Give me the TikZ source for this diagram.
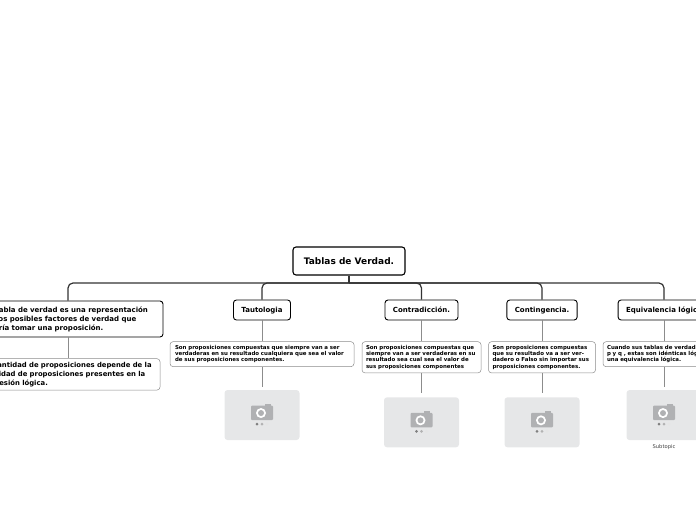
\documentclass[tikz,border=0pt]{standalone}
\usepackage{fontspec}
\setmainfont{DejaVu Sans}
\definecolor{cLine}{HTML}{333333}
\definecolor{cSoft}{HTML}{8C8C8C}
\definecolor{cPhoto}{HTML}{E6E7E8}
\definecolor{cCamera}{HTML}{B0B1B3}
\usetikzlibrary{positioning}
\tikzset{
  node-root/.style={draw=black,line width=1.1pt,rounded corners=3pt,fill=white,
    minimum width=112pt,minimum height=28pt,text depth=0pt,align=center,font=\fontsize{9}{11}\selectfont\bfseries},
  node-topic/.style={draw=black,line width=0.9pt,rounded corners=3pt,fill=white,
    minimum height=20pt,inner xsep=8pt,text depth=0pt,align=center,font=\fontsize{7}{8}\selectfont\bfseries},
  node-wide/.style={draw=black,line width=0.9pt,rounded corners=3pt,fill=white,
    text width=168pt,inner xsep=11pt,minimum height=36pt,align=left,font=\fontsize{7}{9}\selectfont\bfseries},
  node-note/.style={draw=cSoft,line width=0.5pt,rounded corners=3pt,fill=white,
    inner xsep=4pt,inner ysep=3.5pt,align=left,font=\fontsize{5.45}{6.3}\selectfont\bfseries},
  node-note-wide/.style={draw=cSoft,line width=0.5pt,rounded corners=3pt,fill=white,
    text width=172pt,inner xsep=6pt,minimum height=31pt,align=left,font=\fontsize{6.85}{9}\selectfont\bfseries},
  node-photo/.style={fill=cPhoto,rounded corners=3pt,minimum width=75pt,minimum height=50pt},
  node-caption/.style={font=\fontsize{5.2}{6}\selectfont,text=black!75},
  link/.style={draw=cLine,line width=1.2pt,rounded corners=5pt},
  link-soft/.style={draw=cSoft,line width=0.7pt},
  pics/camera/.style={code={
    \fill[cCamera,rounded corners=1pt] (-11,-9.5) rectangle (11,5);
    \fill[cCamera] (2.5,-11) rectangle (8.5,-9.5);
    \fill[white] (-1,-2) circle (5pt);
    \fill[cCamera] (-1,-2) circle (3pt);
    \fill[black!50] (-5,9) circle (1.5pt);
    \fill[black!30] (0,9) circle (1.5pt);
    \fill[black!10] (5,9) circle (1.5pt);
  }},
}

\begin{document}
\begin{tikzpicture}[x=1pt,y=-1pt,node distance=21pt]
  \useasboundingbox (0,0) rectangle (696,520);
  \node[node-root] (root) at (349,261) {Tablas de Verdad.};
  \coordinate (bus) at (349,283);
  % ramas
  \node[node-wide] (tabla) at (68,319) {La tabla de verdad es una representación\\de los posibles factores de verdad que\\podría tomar una proposición.};
  \node[node-topic] (tauto) at (262,310) {Tautologia};
  \node[node-topic] (contra) at (421.5,310) {Contradicción.};
  \node[node-topic] (conti) at (542,310) {Contingencia.};
  \node[node-topic] (equiv) at (664,310) {Equivalencia lógica};
  % notas
  \node[node-note-wide,below=21pt of tabla] (cantidad) {La cantidad de proposiciones depende de la\\cantidad de proposiciones presentes en la\\expresión lógica.};
  \node[node-note,text width=174pt,inner xsep=5pt,below=21pt of tauto] (tautonote) {Son proposiciones compuestas que siempre van a ser\\verdaderas en su resultado cualquiera que sea el valor\\de sus proposiciones componentes.};
  \node[node-note,text width=111pt,below=21pt of contra] (contranote) {Son proposiciones compuestas que\\siempre van a ser verdaderas en su\\resultado sea cual sea el valor de\\sus proposiciones componentes};
  \node[node-note,text width=99pt,below=21pt of conti] (contnote) {Son proposiciones compuestas\\que su resultado va a ser ver-\\dadero o Falso sin importar sus\\proposiciones componentes.};
  \node[node-note,text width=114pt,below=21pt of equiv] (equivnote) {Cuando sus tablas de verdad\\p y q , estas son idénticas lógicas\\una equivalencia lógica.};
  % fotos
  \node[node-photo,below=23pt of tautonote] (tautophoto) {};
  \node[node-photo,below=24pt of contranote] (contraphoto) {};
  \node[node-photo,below=24pt of contnote] (contphoto) {};
  \node[node-photo,below=23pt of equivnote] (equivphoto) {};
  \node[node-caption,below=1pt of equivphoto] (equivcaption) {Subtopic};
  \foreach \p in {tautophoto,contraphoto,contphoto,equivphoto}
    \pic at (\p) {camera};
  % conectores
  \draw[link] (root.south) -- (bus);
  \draw[link] (bus) -| (tabla.north);
  \draw[link] (bus) -| (tauto.north);
  \draw[link] (bus) -| (contra.north);
  \draw[link] (bus) -| (conti.north);
  \draw[link] (bus) -| (equiv.north);
  \draw[link-soft] (tabla) -- (cantidad);
  \draw[link-soft] (tauto) -- (tautonote);
  \draw[link-soft] (contra) -- (contranote);
  \draw[link-soft] (conti) -- (contnote);
  \draw[link-soft] (equiv) -- (equivnote);
  \draw[link-soft] (tautonote.south) -- ++(0,20);
  \draw[link-soft] (contranote.south) -- ++(0,20);
  \draw[link-soft] (contnote.south) -- ++(0,20);
  \draw[link-soft] (equivnote.south) -- ++(0,20);
\end{tikzpicture}
\end{document}
